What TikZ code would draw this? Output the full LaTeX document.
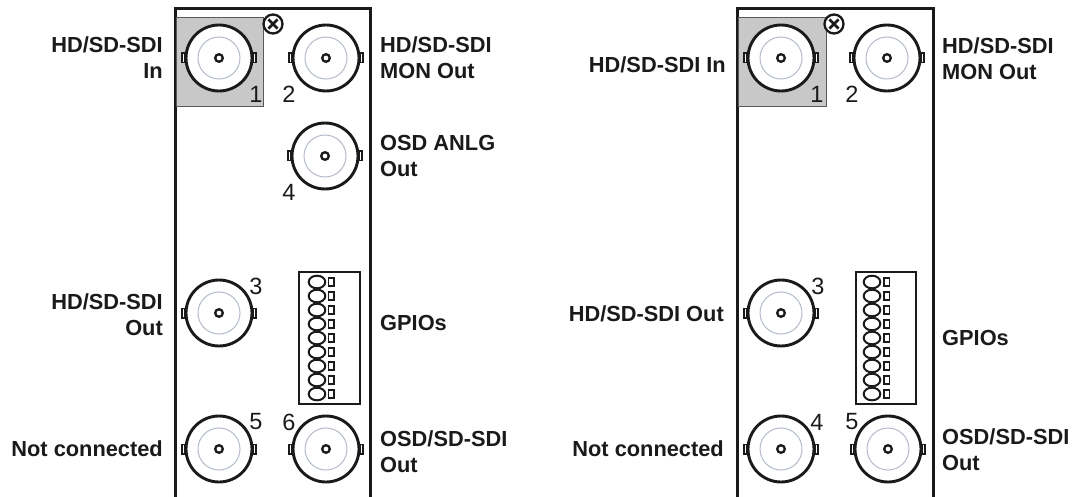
\documentclass[tikz,border=0pt]{standalone}
\usepackage{fontspec}
\setmainfont{Liberation Sans}
\definecolor{innerc}{HTML}{B4BCCB}
\definecolor{plate}{HTML}{C8C8C8}
\definecolor{ink}{HTML}{1A1A1A}
\newcommand\bncat[3]{%
  \node[bncouter] (#1) at (#2,#3) {};
  \draw[innerline] (#1.center) circle (21pt);
  \draw[ink, line width=2.3pt] (#1.center) circle (3.8pt);
  \draw[tabbox] ($(#1.center)+(-37,-4.6)$) rectangle ($(#1.center)+(-34.5,4.6)$);
  \draw[tabbox] ($(#1.center)+(34.5,-4.6)$) rectangle ($(#1.center)+(37,4.6)$);
}
\newcommand\crossat[3]{%
  \node[crossc] (#1) at (#2,#3) {};
  \draw[ink, line width=2.6pt] ($(#1.center)+(-4.6,-4.6)$) -- ($(#1.center)+(4.6,4.6)$);
  \draw[ink, line width=2.6pt] ($(#1.center)+(-4.6,4.6)$) -- ($(#1.center)+(4.6,-4.6)$);
}
\newcommand\gpioat[5]{% name, x0, x1, oval x, rect x
  \node[draw=ink, line width=2.5pt, inner sep=0pt, minimum width={(#3-#2)*1pt}, minimum height=132pt] (#1) at ({(#2+#3)/2},338) {};
  \foreach \k in {0,...,8} {
    \draw[ink, line width=2pt] (#4,282+14*\k) ellipse [x radius=8.3pt, y radius=6.3pt];
    \draw[ink, line width=1.8pt] (#5,277.8+14*\k) rectangle (#5+5.5,286.2+14*\k);
  }
}
\tikzset{
  bncouter/.style={circle, draw=ink, fill=white, line width=2.9pt, minimum size=66pt, inner sep=0pt},
  innerline/.style={innerc, line width=1pt},
  tabbox/.style={draw=ink, fill=white, line width=1.8pt},
  crossc/.style={circle, draw=ink, fill=white, line width=2.3pt, minimum size=19pt, inner sep=0pt},
  panel/.style={draw=ink, line width=3pt},
  platebox/.style={fill=plate, draw=black!65, line width=1pt},
  lbl/.style={font=\fontsize{21.8}{26}\selectfont\bfseries, inner sep=0pt, text=ink},
  num/.style={font=\fontsize{23.5}{26}\selectfont, inner sep=0pt, text=ink},
}
\usetikzlibrary{calc}
\begin{document}
\begin{tikzpicture}[x=1pt,y=-1pt]
\useasboundingbox (0,0) rectangle (1079,497);
% ---------- left panel ----------
\draw[panel] (175,499) -- (175,9) -- (370,9) -- (370,499);
\draw[platebox] (176.5,18) rectangle (263,107);
\bncat{La}{219}{58}
\bncat{Lb}{326}{58}
\bncat{Ld}{325}{156}
\bncat{Lc}{219}{313}
\bncat{Le}{219}{449}
\bncat{Lf}{326}{449}
\crossat{Lx}{273}{24}
\gpioat{Lg}{299}{360}{317}{328.5}
\node[num] (n1) at (256,94) {1};
\node[num] (n2) at (289,94) {2};
\node[num] (n4) at (289,192) {4};
\node[num] (n3) at (256,286) {3};
\node[num] (n5) at (256,422) {5};
\node[num] (n6) at (289,422) {6};
\node[lbl, align=right, anchor=north east] (t1) at (163,36.5) {HD/SD-SDI\\In};
\node[lbl, align=left, anchor=north west] (t2) at (380,36.5) {HD/SD-SDI\\MON Out};
\node[lbl, align=left, anchor=north west] (t4) at (380,135.5) {OSD ANLG\\Out};
\node[lbl, align=right, anchor=north east] (t3) at (163,293.5) {HD/SD-SDI\\Out};
\node[lbl, align=left, anchor=north west] (tg) at (380,315.5) {GPIOs};
\node[lbl, anchor=north east] (t5) at (163,440.5) {Not connected};
\node[lbl, align=left, anchor=north west] (t6) at (380,430.5) {OSD/SD-SDI\\Out};
% ---------- right panel ----------
\draw[panel] (737,499) -- (737,9) -- (933,9) -- (933,499);
\draw[platebox] (738.5,18) rectangle (826,107);
\bncat{Ra}{781}{58}
\bncat{Rb}{887}{58}
\bncat{Rc}{781}{313}
\bncat{Rd}{781}{449}
\bncat{Re}{888}{449}
\crossat{Rx}{834}{24}
\gpioat{Rg}{856}{916}{872}{884}
\node[num] (m1) at (817,94) {1};
\node[num] (m2) at (852,94) {2};
\node[num] (m3) at (818,286) {3};
\node[num] (m4) at (817,422) {4};
\node[num] (m5) at (852,422) {5};
\node[lbl, anchor=north east] (s1) at (726,56.5) {HD/SD-SDI In};
\node[lbl, align=left, anchor=north west] (s2) at (942,37.5) {HD/SD-SDI\\MON Out};
\node[lbl, anchor=north east] (s3) at (724,305.5) {HD/SD-SDI Out};
\node[lbl, align=left, anchor=north west] (sg) at (942,330.5) {GPIOs};
\node[lbl, anchor=north east] (s4) at (724,440.5) {Not connected};
\node[lbl, align=left, anchor=north west] (s5) at (942,428.5) {OSD/SD-SDI\\Out};
\end{tikzpicture}
\end{document}
